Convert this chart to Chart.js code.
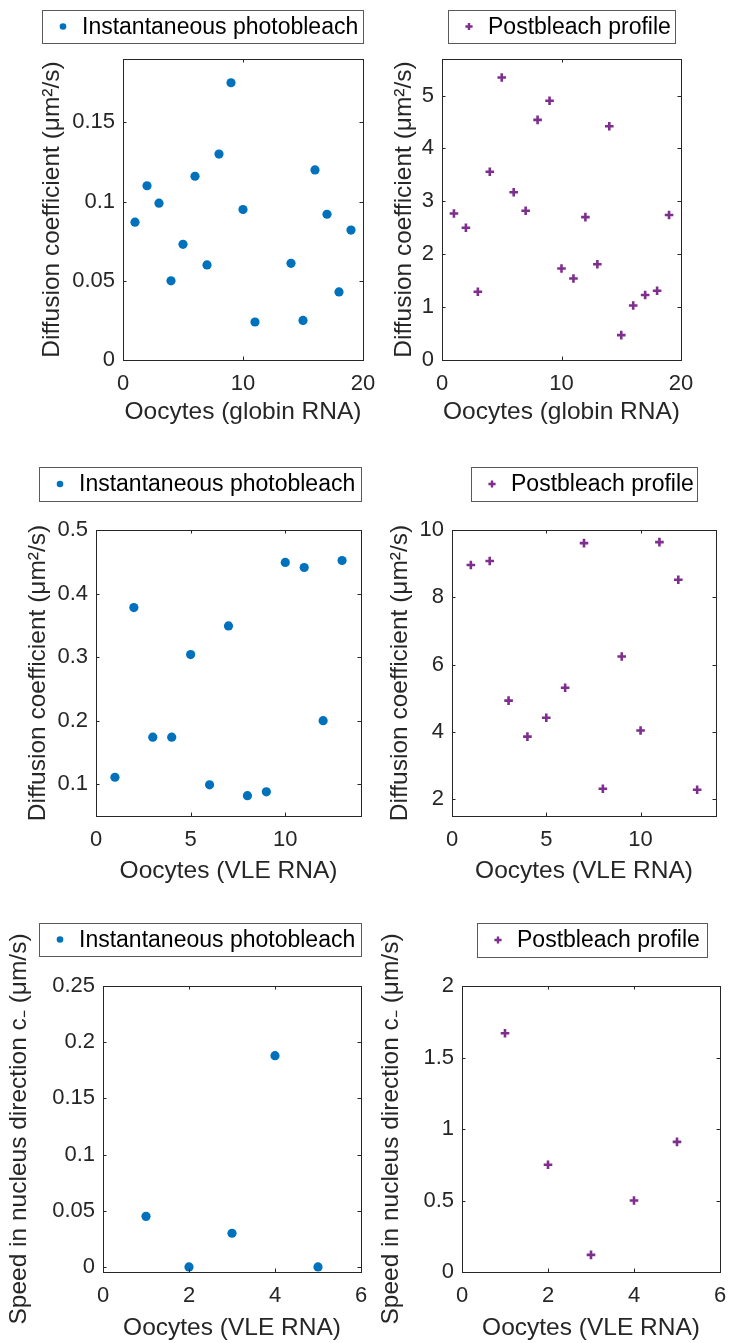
<!DOCTYPE html>
<html>
<head>
<meta charset="utf-8">
<script src="https://cdn.jsdelivr.net/npm/chart.js@4.4.1/dist/chart.umd.min.js"></script>
<style>
  body { margin: 0; background: #fff; }
  canvas { position: absolute; }
</style>
</head>
<body>
<canvas id="c1"></canvas>
<canvas id="c2"></canvas>
<canvas id="c3"></canvas>
<canvas id="c4"></canvas>
<canvas id="c5"></canvas>
<canvas id="c6"></canvas>
<script>
// values
const globinInstX = [1, 2, 3, 4, 5, 6, 7, 8, 9, 10, 11, 14, 15, 16, 17, 18, 19];
const globinInstD = [0.087, 0.110, 0.099, 0.050, 0.073, 0.116, 0.060, 0.130, 0.175, 0.095, 0.024, 0.061, 0.025, 0.120, 0.092, 0.043, 0.082];

const globinPostX = [1, 2, 3, 4, 5, 6, 7, 8, 9, 10, 11, 12, 13, 14, 15, 16, 17, 18, 19];
const globinPostD = [2.77, 2.50, 1.29, 3.56, 5.34, 3.17, 2.82, 4.54, 4.90, 1.73, 1.54, 2.70, 1.81, 4.42, 0.47, 1.03, 1.23, 1.31, 2.74];

const vleInstX = [1, 2, 3, 4, 5, 6, 7, 8, 9, 10, 11, 12, 13];
const vleInstD = [0.111, 0.378, 0.174, 0.174, 0.304, 0.099, 0.349, 0.082, 0.088, 0.449, 0.441, 0.200, 0.452];

const vlePostX = [1, 2, 3, 4, 5, 6, 7, 8, 9, 10, 11, 12, 13];
const vlePostD = [8.96, 9.08, 4.93, 3.86, 4.42, 5.31, 9.61, 2.31, 6.24, 4.04, 9.64, 8.52, 2.28];

const speedX = [1, 2, 3, 4, 5];
const speedInst = [0.045, 0.000, 0.030, 0.188, 0.000];
const speedPost = [1.67, 0.75, 0.12, 0.50, 0.91];

// tick labels
const globinTicksX = [0, 10, 20];
const globinInstTicksY = [0, 0.05, 0.1, 0.15];
const globinPostTicksY = [0, 1, 2, 3, 4, 5];
const vleTicksX = [0, 5, 10];
const vleInstTicksY = [0.1, 0.2, 0.3, 0.4, 0.5];
const vlePostTicksY = [2, 4, 6, 8, 10];
const speedTicksX = [0, 2, 4, 6];
const speedInstTicksY = [0, 0.05, 0.1, 0.15, 0.2, 0.25];
const speedPostTicksY = [0, 0.5, 1, 1.5, 2];

const FONT = "'Liberation Sans', Arial, Helvetica, sans-serif";
const INK = '#262626';
const BLUE = '#0072BD';
const PURPLE = '#7E2F8E';

const DIFF_TITLE = 'Diffusion coefficient (\u03bcm\u00b2/s)';
const SPEED_TITLE = 'Speed in nucleus direction c\u208b (\u03bcm/s)';

// box, inward ticks and a boxed legend, matlab style
const frame = {
  id: 'frame',
  afterDraw(chart, args, o) {
    const {ctx, chartArea: a, scales: {x, y}} = chart;
    const tl = 3.5;
    ctx.save();
    ctx.strokeStyle = INK;
    ctx.lineWidth = 1;
    ctx.strokeRect(a.left + 0.5, a.top + 0.5, a.right - a.left, a.bottom - a.top);
    ctx.beginPath();
    x.ticks.forEach(t => {
      const px = Math.round(x.getPixelForValue(t.value)) + 0.5;
      ctx.moveTo(px, a.bottom); ctx.lineTo(px, a.bottom - tl);
      ctx.moveTo(px, a.top); ctx.lineTo(px, a.top + tl);
    });
    y.ticks.forEach(t => {
      const py = Math.round(y.getPixelForValue(t.value)) + 0.5;
      ctx.moveTo(a.left, py); ctx.lineTo(a.left + tl, py);
      ctx.moveTo(a.right, py); ctx.lineTo(a.right - tl, py);
    });
    ctx.stroke();

    // legend
    const [l, t, r, b] = o.box;
    const ds = chart.data.datasets[0];
    const my = (t + b) / 2;
    ctx.fillStyle = '#fff';
    ctx.fillRect(l, t, r - l, b - t);
    ctx.strokeStyle = '#5a5a5a';
    ctx.strokeRect(l + 0.5, t + 0.5, r - l, b - t);
    if (ds.pointStyle === 'circle') {
      ctx.fillStyle = ds.backgroundColor;
      ctx.beginPath();
      ctx.arc(l + 21, my, 3.3, 0, Math.PI * 2);
      ctx.fill();
    } else {
      ctx.strokeStyle = ds.borderColor;
      ctx.lineWidth = 2.4;
      ctx.beginPath();
      ctx.moveTo(l + 21 - 3.6, my); ctx.lineTo(l + 21 + 3.6, my);
      ctx.moveTo(l + 21, my - 3.6); ctx.lineTo(l + 21, my + 3.6);
      ctx.stroke();
    }
    ctx.fillStyle = '#000';
    ctx.font = '23px ' + FONT;
    ctx.textBaseline = 'middle';
    ctx.textAlign = 'left';
    ctx.fillText(ds.label, l + 40, my + 1);
    ctx.restore();
  }
};

function panel(p) {
  const cv = document.getElementById(p.id);
  cv.width = p.w; cv.height = p.h;
  cv.style.left = p.left + 'px';
  cv.style.top = p.top + 'px';

  const tickFont = {family: FONT, size: 22};
  const titleFont = {family: FONT, size: 24.5};
  const circle = p.marker === 'circle';

  new Chart(cv, {
    type: 'scatter',
    data: {
      datasets: [{
        label: p.label,
        data: p.xs.map((v, i) => ({x: v, y: p.ys[i]})),
        pointStyle: circle ? 'circle' : 'cross',
        pointRadius: circle ? 4.6 : 4.3,
        backgroundColor: circle ? BLUE : PURPLE,
        borderColor: circle ? BLUE : PURPLE,
        borderWidth: circle ? 0 : 2.6
      }]
    },
    options: {
      responsive: false,
      animation: false,
      layout: {padding: {top: p.area.top, right: p.w - p.area.right, bottom: 0, left: 0}},
      plugins: {
        legend: {display: false},
        tooltip: {enabled: false},
        frame: {box: p.legend}
      },
      scales: {
        x: {
          type: 'linear',
          min: p.xRange[0], max: p.xRange[1],
          afterBuildTicks: s => { s.ticks = p.xTicks.map(v => ({value: v})); },
          afterFit: s => { s.height = p.h - p.area.bottom; s.paddingLeft = 0; s.paddingRight = 0; },
          grid: {display: false, drawTicks: false},
          border: {display: false},
          ticks: {color: INK, font: tickFont, padding: 11, maxRotation: 0, autoSkip: false, callback: v => String(v)},
          title: {display: true, text: p.xTitle, color: INK, font: titleFont, padding: {top: 0, bottom: p.xtPad}}
        },
        y: {
          type: 'linear',
          min: p.yRange[0], max: p.yRange[1],
          afterBuildTicks: s => { s.ticks = p.yTicks.map(v => ({value: v})); },
          afterFit: s => { s.width = p.area.left; s.paddingTop = 0; s.paddingBottom = 0; },
          grid: {display: false, drawTicks: false},
          border: {display: false},
          ticks: {color: INK, font: tickFont, padding: 8, autoSkip: false, callback: v => String(v)},
          title: {display: true, text: p.yTitle, color: INK, font: titleFont, padding: {top: p.ytPad, bottom: 0}}
        }
      }
    },
    plugins: [frame]
  });
}

// Globin RNA, instantaneous photobleach
panel({
  id: 'c1', left: 0, top: 0, w: 385, h: 445,
  area: {left: 123, top: 59, right: 363, bottom: 360},
  legend: [42, 10, 363, 43],
  xs: globinInstX, ys: globinInstD, marker: 'circle', label: 'Instantaneous photobleach',
  xRange: [0, 20], yRange: [0, 0.19], xTicks: globinTicksX, yTicks: globinInstTicksY,
  xTitle: 'Oocytes (globin RNA)', yTitle: DIFF_TITLE, xtPad: 18, ytPad: 38
});

// Globin RNA, postbleach profile
panel({
  id: 'c2', left: 365, top: 0, w: 365, h: 445,
  area: {left: 77, top: 59, right: 316, bottom: 360},
  legend: [83, 10, 310, 43],
  xs: globinPostX, ys: globinPostD, marker: 'cross', label: 'Postbleach profile',
  xRange: [0, 20], yRange: [0, 5.69], xTicks: globinTicksX, yTicks: globinPostTicksY,
  xTitle: 'Oocytes (globin RNA)', yTitle: DIFF_TITLE, xtPad: 18, ytPad: 25
});

// VLE RNA, instantaneous photobleach
panel({
  id: 'c3', left: 0, top: 455, w: 385, h: 445,
  area: {left: 96, top: 75, right: 361, bottom: 361},
  legend: [39, 12, 361, 46],
  xs: vleInstX, ys: vleInstD, marker: 'circle', label: 'Instantaneous photobleach',
  xRange: [0, 14], yRange: [0.05, 0.5], xTicks: vleTicksX, yTicks: vleInstTicksY,
  xTitle: 'Oocytes (VLE RNA)', yTitle: DIFF_TITLE, xtPad: 14, ytPad: 24
});

// VLE RNA, postbleach profile
panel({
  id: 'c4', left: 365, top: 455, w: 365, h: 445,
  area: {left: 87, top: 75, right: 351, bottom: 361},
  legend: [106, 12, 332, 46],
  xs: vlePostX, ys: vlePostD, marker: 'cross', label: 'Postbleach profile',
  xRange: [0, 14], yRange: [1.5, 10], xTicks: vleTicksX, yTicks: vlePostTicksY,
  xTitle: 'Oocytes (VLE RNA)', yTitle: DIFF_TITLE, xtPad: 14, ytPad: 21
});

// speed, instantaneous photobleach
panel({
  id: 'c5', left: 0, top: 905, w: 385, h: 438,
  area: {left: 103, top: 81, right: 361, bottom: 367},
  legend: [39, 18, 361, 51],
  xs: speedX, ys: speedInst, marker: 'circle', label: 'Instantaneous photobleach',
  xRange: [0, 6], yRange: [-0.0045, 0.25], xTicks: speedTicksX, yTicks: speedInstTicksY,
  xTitle: 'Oocytes (VLE RNA)', yTitle: SPEED_TITLE, xtPad: 0, ytPad: 5
});

// speed, postbleach profile
panel({
  id: 'c6', left: 365, top: 905, w: 365, h: 438,
  area: {left: 97, top: 81, right: 355, bottom: 367},
  legend: [112, 18, 342, 52],
  xs: speedX, ys: speedPost, marker: 'cross', label: 'Postbleach profile',
  xRange: [0, 6], yRange: [0, 2], xTicks: speedTicksX, yTicks: speedPostTicksY,
  xTitle: 'Oocytes (VLE RNA)', yTitle: SPEED_TITLE, xtPad: 0, ytPad: 12
});
</script>
</body>
</html>
